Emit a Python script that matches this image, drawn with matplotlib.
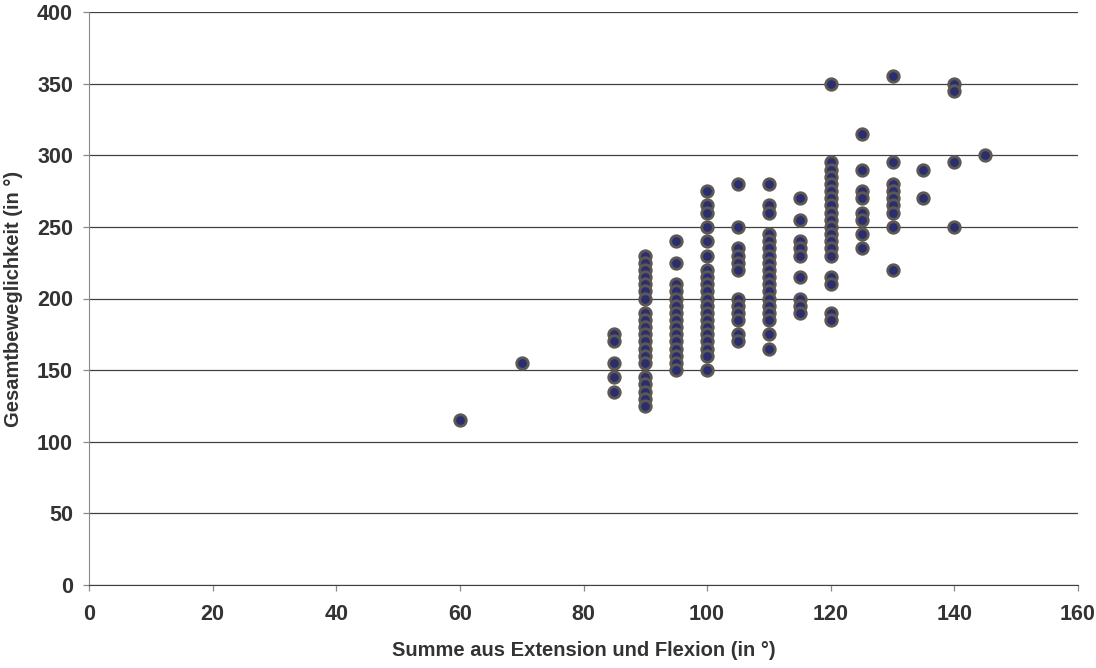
import matplotlib.pyplot as plt
import matplotlib.ticker as tik

plt.rcParams['font.family'] = ['Liberation Sans', 'DejaVu Sans']

# data: x category (sum of extension + flexion) -> list of total mobility values
x_60 = [115]
x_70 = [155]
x_85 = [175, 170, 155, 145, 135]
x_90 = [230, 225, 220, 215, 210, 205, 200, 190, 185, 180, 175, 170, 165, 160,
        155, 145, 140, 135, 130, 125]
x_95 = [240, 225, 210, 205, 200, 195, 190, 185, 180, 175, 170, 165, 160, 155, 150]
x_100 = [275, 265, 260, 250, 240, 230, 220, 215, 210, 205, 200, 195, 190, 185,
         180, 175, 170, 165, 160, 150]
x_105 = [280, 250, 235, 230, 225, 220, 200, 195, 190, 185, 175, 170]
x_110 = [280, 265, 260, 245, 240, 235, 230, 225, 220, 215, 210, 205, 200, 195,
         190, 185, 175, 165]
x_115 = [270, 255, 240, 235, 230, 215, 200, 195, 190]
x_120 = [350, 295, 290, 285, 280, 275, 270, 265, 260, 255, 250, 245, 240, 235,
         230, 215, 210, 190, 185]
x_125 = [315, 290, 275, 270, 260, 255, 245, 235]
x_130 = [355, 295, 280, 275, 270, 265, 260, 250, 220]
x_135 = [290, 270]
x_140 = [350, 345, 295, 250]
x_145 = [300]

groups = {60: x_60, 70: x_70, 85: x_85, 90: x_90, 95: x_95, 100: x_100,
          105: x_105, 110: x_110, 115: x_115, 120: x_120, 125: x_125,
          130: x_130, 135: x_135, 140: x_140, 145: x_145}

xs, ys = [], []
for k, vals in groups.items():
    xs += [k] * len(vals)
    ys += vals

fig = plt.figure(figsize=(10.96, 6.68), dpi=100)
ax = fig.add_axes([89/1096, 1 - 585/668, (1078-89)/1096, (585-12)/668])

ax.yaxis.grid(True, color='#404040', linewidth=0.9)
ax.set_axisbelow(True)

ax.plot(xs, ys, linestyle='none', marker='o', markersize=8.3,
        markerfacecolor='#2b2e6e', markeredgecolor='#5e5853',
        markeredgewidth=2.0, zorder=3)

ax.set_xlim(0, 160)
ax.set_ylim(0, 400)
ax.xaxis.set_major_locator(tik.MultipleLocator(20))
ax.yaxis.set_major_locator(tik.MultipleLocator(50))

for s in ['top', 'right']:
    ax.spines[s].set_visible(False)
ax.spines['left'].set_color('#8a8a8a')
ax.spines['bottom'].set_color('#404040')
ax.tick_params(axis='both', direction='out', length=4.5, width=0.9,
               colors='#8a8a8a', labelcolor='#333333', labelsize=15.5)
ax.tick_params(axis='x', pad=9)
ax.tick_params(axis='y', pad=7)
for lab in ax.get_xticklabels() + ax.get_yticklabels():
    lab.set_fontweight('bold')

ax.set_xlabel('Summe aus Extension und Flexion (in °)', fontsize=14.5,
              fontweight='bold', color='#333333', labelpad=12)
ax.set_ylabel('Gesamtbeweglichkeit (in °)', fontsize=14.5,
              fontweight='bold', color='#333333', labelpad=10)

plt.savefig('out.png', dpi=100)
